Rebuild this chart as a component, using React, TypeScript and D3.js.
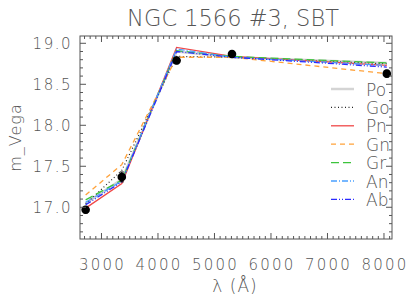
import React from "react";
import * as d3 from "d3";

// observed photometry (effective wavelength in Angstrom, Vega mag)
const wave = [2720, 3360, 4330, 5310, 8050];
const obsMag = [16.97, 17.37, 18.79, 18.87, 18.63];
const obsErr = [0.04, 0.06, 0.04, 0.03, 0.04];

// model SEDs, one value per band
const modelNames = ["Po", "Go", "Pn", "Gn", "Gr", "An", "Ab"];
const poMag = [17.05, 17.34, 18.9, 18.83, 18.76];
const goMag = [17.04, 17.45, 18.84, 18.83, 18.75];
const pnMag = [16.99, 17.29, 18.95, 18.84, 18.73];
const gnMag = [17.15, 17.52, 18.83, 18.83, 18.63];
const grMag = [17.09, 17.33, 18.91, 18.84, 18.76];
const anMag = [17.06, 17.32, 18.93, 18.83, 18.73];
const abMag = [17.03, 17.31, 18.9, 18.83, 18.71];

const xTicks = [3000, 4000, 5000, 6000, 7000, 8000];
const yTicks = [17.0, 17.5, 18.0, 18.5, 19.0];

const styles = [
  { color: "#d4d4d4", dash: "", width: 2.5 },
  { color: "#222", dash: "1,2.5", width: 1.2 },
  { color: "#f04848", dash: "", width: 1.3 },
  { color: "#ffa23a", dash: "5,4", width: 1.3 },
  { color: "#3cc43c", dash: "8,4", width: 1.3 },
  { color: "#4aa0ff", dash: "6,2,1,2", width: 1.3 },
  { color: "#2a2aff", dash: "6,2,1,2,1,2", width: 1.3 },
];

const FONT = "'DejaVu Sans', sans-serif";
const INK = "#555";

export default function App() {
  const W = 415;
  const H = 297;
  const margin = { left: 80, right: 23, top: 36, bottom: 58 };

  const x = d3
    .scaleLinear()
    .domain([2620, 8142])
    .range([margin.left, W - margin.right]);
  const y = d3
    .scaleLinear()
    .domain([16.613, 19.089])
    .range([H - margin.bottom, margin.top]);

  const line = d3
    .line<number>()
    .x((d, i) => x(wave[i]))
    .y((d) => y(d));

  const models = [poMag, goMag, pnMag, gnMag, grMag, anMag, abMag];

  const x0 = x.range()[0];
  const x1 = x.range()[1];
  const y0 = y.range()[0];
  const y1 = y.range()[1];

  const xMinor = x.ticks(50);
  const yMinor = y.ticks(25);
  const isMajorX = (v: number) => Math.abs(v % 1000) < 1e-6;
  const isMajorY = (v: number) => Math.abs(((v * 10) % 5)) < 1e-6 || Math.abs(((v * 10) % 5) - 5) < 1e-6;

  const legendX = 331;
  const legendY = 89;
  const legendStep = 18.4;

  return (
    <svg width={W} height={H} style={{ position: "absolute", left: 0, top: 0, background: "#fff" }}>
      <text x={233} y={26} textAnchor="middle" fontFamily={FONT} fontSize={22.5} fontWeight={200} fill={INK}>
        NGC 1566 #3, SBT
      </text>

      {/* model curves */}
      {models.map((m, i) => (
        <path
          key={modelNames[i]}
          d={line(m) || ""}
          fill="none"
          stroke={styles[i].color}
          strokeWidth={styles[i].width}
          strokeDasharray={styles[i].dash}
        />
      ))}

      {/* observations */}
      {wave.map((w, i) => (
        <g key={"o" + i}>
          <line x1={x(w)} x2={x(w)} y1={y(obsMag[i] - obsErr[i])} y2={y(obsMag[i] + obsErr[i])} stroke="#000" strokeWidth={1} />
          <line x1={x(w) - 2} x2={x(w) + 2} y1={y(obsMag[i] - obsErr[i])} y2={y(obsMag[i] - obsErr[i])} stroke="#000" />
          <line x1={x(w) - 2} x2={x(w) + 2} y1={y(obsMag[i] + obsErr[i])} y2={y(obsMag[i] + obsErr[i])} stroke="#000" />
          <circle cx={x(w)} cy={y(obsMag[i])} r={4.3} fill="#000" />
        </g>
      ))}

      {/* frame */}
      <rect x={x0} y={y1} width={x1 - x0} height={y0 - y1} fill="none" stroke={INK} strokeWidth={1} />
      {xMinor.map((v) => {
        const len = isMajorX(v) ? 6 : 3;
        return (
          <g key={"xt" + v}>
            <line x1={x(v)} x2={x(v)} y1={y0} y2={y0 - len} stroke={INK} />
            <line x1={x(v)} x2={x(v)} y1={y1} y2={y1 + len} stroke={INK} />
          </g>
        );
      })}
      {yMinor.map((v) => {
        const len = isMajorY(v) ? 6 : 3;
        return (
          <g key={"yt" + v}>
            <line x1={x0} x2={x0 + len} y1={y(v)} y2={y(v)} stroke={INK} />
            <line x1={x1} x2={x1 - len} y1={y(v)} y2={y(v)} stroke={INK} />
          </g>
        );
      })}
      {xTicks.map((v) => (
        <text key={"xl" + v} x={x(v) + 1} y={270} textAnchor="middle" fontFamily={FONT} fontSize={15} fontWeight={200} letterSpacing={2.2} fill={INK}>
          {v}
        </text>
      ))}
      {yTicks.map((v) => (
        <text key={"yl" + v} x={72} y={y(v) + 5.5} textAnchor="end" fontFamily={FONT} fontSize={15} fontWeight={200} letterSpacing={1.5} fill={INK}>
          {v.toFixed(1)}
        </text>
      ))}

      <text x={235} y={292} textAnchor="middle" fontFamily={FONT} fontSize={17} fontWeight={200} letterSpacing={1} fill={INK}>
        λ (Å)
      </text>
      <text
        transform={`translate(21,${(y0 + y1) / 2}) rotate(-90)`}
        textAnchor="middle"
        fontFamily={FONT}
        fontSize={16}
        fontWeight={200}
        letterSpacing={1}
        fill={INK}
      >
        m_Vega
      </text>

      {/* legend */}
      {modelNames.map((n, i) => (
        <g key={"lg" + n}>
          <line
            x1={legendX}
            x2={legendX + 23}
            y1={legendY + i * legendStep}
            y2={legendY + i * legendStep}
            stroke={styles[i].color}
            strokeWidth={styles[i].width}
            strokeDasharray={styles[i].dash}
          />
          <text x={366} y={legendY + i * legendStep + 6.5} fontFamily={FONT} fontSize={17} fontWeight={200} fill={INK}>
            {n}
          </text>
        </g>
      ))}
    </svg>
  );
}
